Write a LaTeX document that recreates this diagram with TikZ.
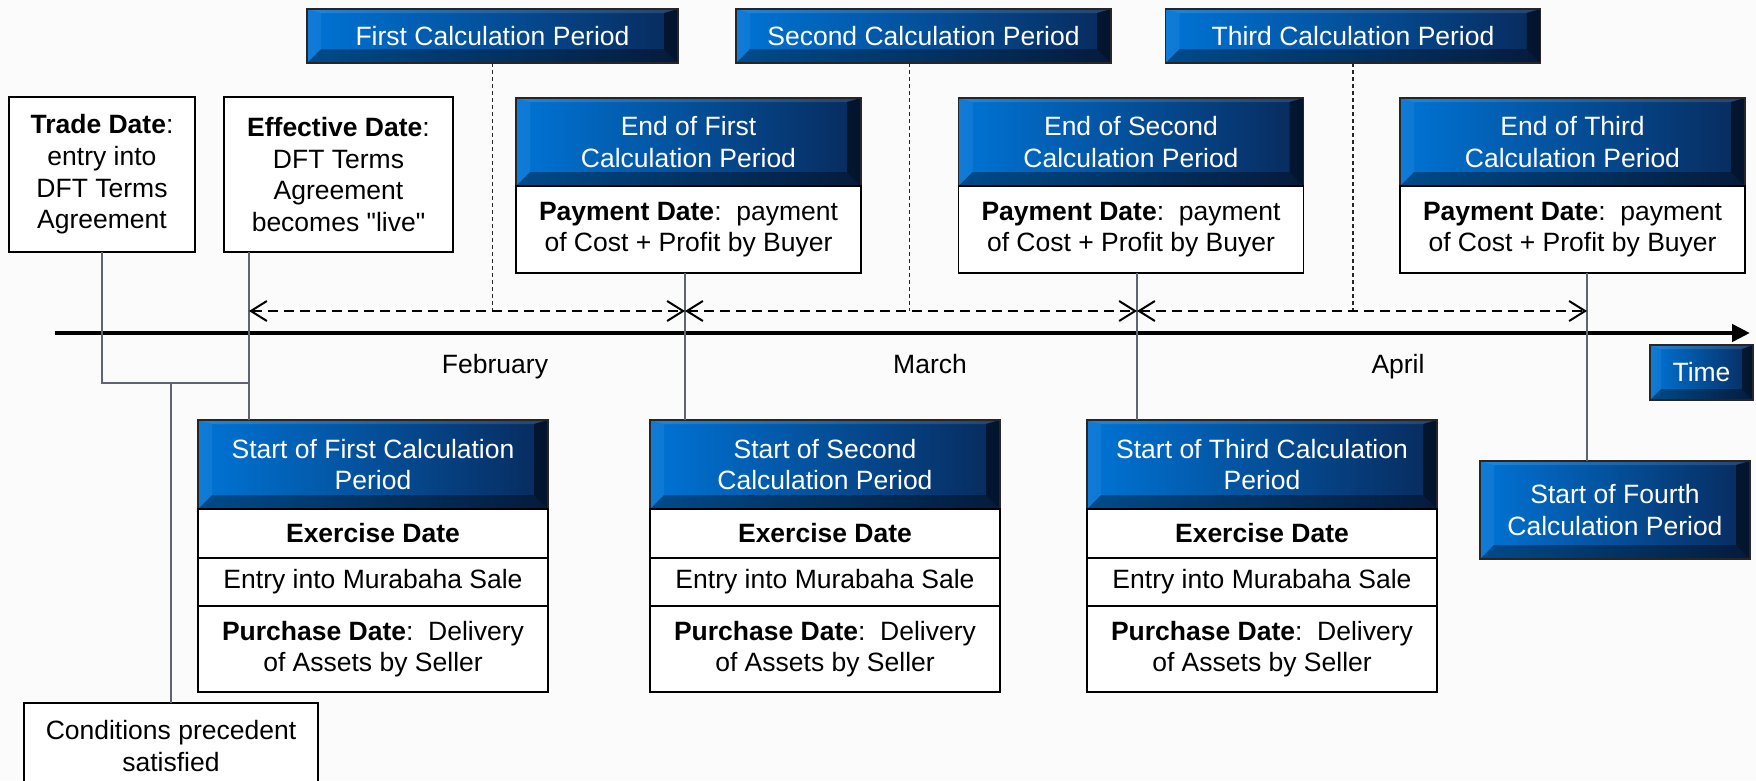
\documentclass[tikz,border=0pt]{standalone}
\usepackage{fontspec}
\setmainfont{Liberation Sans}
\newfontfamily\plainq{Liberation Sans}
\usetikzlibrary{arrows.meta,calc}
\definecolor{bluL}{RGB}{0,116,214}
\definecolor{bluR}{RGB}{8,42,92}
\definecolor{bgc}{RGB}{251,251,251}
\definecolor{lnc}{RGB}{95,100,112}
\newcommand{\bvsz}{14pt}
\tikzset{
  txt/.style={font=\fontsize{26.5}{31.7}\selectfont, align=center, inner sep=0pt, outer sep=0pt},
  bevelbox/.style={txt, draw=black!85, line width=1.6pt, left color=bluL, right color=bluR, text=white,
    path picture={
      \fill[white,opacity=.12] (path picture bounding box.north west) -- (path picture bounding box.north east)
        -- ([xshift=-\bvsz,yshift=-4pt]path picture bounding box.north east)
        -- ([xshift=\bvsz,yshift=-4pt]path picture bounding box.north west) -- cycle;
      \fill[white,opacity=.06] (path picture bounding box.north west)
        -- ([xshift=\bvsz,yshift=-4pt]path picture bounding box.north west)
        -- ([xshift=\bvsz,yshift=\bvsz]path picture bounding box.south west)
        -- (path picture bounding box.south west) -- cycle;
      \fill[black,opacity=.35] (path picture bounding box.south west)
        -- ([xshift=\bvsz,yshift=\bvsz]path picture bounding box.south west)
        -- ([xshift=-\bvsz,yshift=\bvsz]path picture bounding box.south east)
        -- (path picture bounding box.south east) -- cycle;
      \fill[black,opacity=.5] (path picture bounding box.south east)
        -- ([xshift=-\bvsz,yshift=\bvsz]path picture bounding box.south east)
        -- ([xshift=-\bvsz,yshift=-4pt]path picture bounding box.north east)
        -- (path picture bounding box.north east) -- cycle;
    }},
  wbox/.style={txt, draw=black, line width=1.8pt, fill=white, text=black},
  month/.style={txt, text=black, anchor=base},
  thinline/.style={draw=lnc, line width=1.3pt},
  vdash/.style={draw=black!85, line width=1.3pt, dash pattern=on 4pt off 3pt},
  darr/.style={draw=black, line width=2pt, dash pattern=on 10pt off 6pt,
    {Straight Barb[length=16pt,width=20pt,line width=2pt]}-{Straight Barb[length=16pt,width=20pt,line width=2pt]}},
  axisline/.style={draw=black, line width=4.5pt, -{Triangle[length=18pt,width=17pt]}}
}
\begin{document}
\begin{tikzpicture}[x=1pt,y=-1pt]
\useasboundingbox (0,0) rectangle (1756,780);
\fill[bgc] (0,0) rectangle (1756,780);

% reference coordinates
\coordinate (tk0) at (249,333);
\coordinate (tk1) at (685,333);
\coordinate (tk2) at (1137,333);
\coordinate (tk3) at (1587,333);
\coordinate (dy) at (0,311);
\coordinate (cj) at (171,383);
\coordinate (ax0) at (55,333);
\coordinate (ax1) at (1750,333);

% top period boxes
\node[bevelbox, minimum width=371pt, minimum height=54pt] (p1) at (492.5,36) {First Calculation Period};
\node[bevelbox, minimum width=375pt, minimum height=54pt] (p2) at (923.5,36) {Second Calculation Period};
\node[bevelbox, minimum width=375pt, minimum height=54pt] (p3) at (1353,36) {Third Calculation Period};

% trade / effective
\node[wbox, minimum width=186pt, minimum height=155pt] (trade) at (102,174.5)
  {\textbf{Trade Date}:\\entry into\\DFT Terms\\Agreement};
\node[wbox, minimum width=229pt, minimum height=155pt] (eff) at (338.5,174.5)
  {\textbf{Effective Date}:\\DFT Terms\\Agreement\\becomes {\plainq "live"}};

% end boxes
\node[bevelbox, minimum width=345pt, minimum height=88pt] (e1h) at (688.5,142) {End of First\\Calculation Period};
\node[wbox, minimum width=345pt, minimum height=87pt] (e1b) at (688.5,229.5) {\textbf{Payment Date}:\ \ payment\\of Cost + Profit by Buyer};
\node[bevelbox, minimum width=345pt, minimum height=88pt] (e2h) at (1131,142) {End of Second\\Calculation Period};
\node[wbox, minimum width=345pt, minimum height=87pt] (e2b) at (1131,229.5) {\textbf{Payment Date}:\ \ payment\\of Cost + Profit by Buyer};
\node[bevelbox, minimum width=345pt, minimum height=88pt] (e3h) at (1572.5,142) {End of Third\\Calculation Period};
\node[wbox, minimum width=345pt, minimum height=87pt] (e3b) at (1572.5,229.5) {\textbf{Payment Date}:\ \ payment\\of Cost + Profit by Buyer};

% start boxes
\foreach \n/\x/\t in {1/373/{Start of First Calculation\\Period},2/825/{Start of Second\\Calculation Period},3/1262/{Start of Third Calculation\\Period}}{
  \node[bevelbox, minimum width=350pt, minimum height=89pt] (s\n h) at (\x,464.5) {\t};
  \node[wbox, minimum width=350pt, minimum height=49pt] (s\n a) at (\x,533.5) {\textbf{Exercise Date}};
  \node[wbox, minimum width=350pt, minimum height=48pt] (s\n b) at (\x,582) {Entry into Murabaha Sale};
  \node[wbox, minimum width=350pt, minimum height=86pt] (s\n c) at (\x,649) {\textbf{Purchase Date}:\ \ Delivery\\of Assets by Seller};
}
\node[bevelbox, minimum width=270pt, minimum height=98pt] (s4h) at (1615,510) {Start of Fourth\\Calculation Period};

% time
\renewcommand{\bvsz}{11pt}
\node[bevelbox, minimum width=103pt, minimum height=55pt] (time) at (1701.5,372.5) {\raisebox{-2pt}{Time}};
\renewcommand{\bvsz}{14pt}

% conditions
\node[wbox, minimum width=294pt, minimum height=86pt] (cond) at (171,746) {Conditions precedent\\satisfied};

% months
\node[month] (feb) at (495,373.5) {February};
\node[month] (mar) at (930,373.5) {March};
\node[month] (apr) at (1398,373.5) {April};

% axis
\draw[axisline] (ax0) -- (ax1);

% solid connectors
\draw[thinline] (trade.south) |- (cj -| tk0);
\draw[thinline] (cj) -- (cond.north);
\draw[thinline] (eff.south -| tk0) -- (s1h.north -| tk0);
\draw[thinline] (e1b.south -| tk1) -- (s2h.north -| tk1);
\draw[thinline] (e2b.south -| tk2) -- (s3h.north -| tk2);
\draw[thinline] (e3b.south -| tk3) -- (s4h.north -| tk3);

% dashed verticals
\draw[vdash] (p1.south) -- (p1.south |- dy);
\draw[vdash] ([xshift=-14pt]p2.south) -- ([xshift=-14pt]p2.south |- dy);
\draw[vdash] (p3.south) -- (p3.south |- dy);

% dashed period arrows
\draw[darr] (tk0 |- dy) -- (tk1 |- dy);
\draw[darr] (tk1 |- dy) -- (tk2 |- dy);
\draw[darr] (tk2 |- dy) -- (tk3 |- dy);
\end{tikzpicture}
\end{document}
